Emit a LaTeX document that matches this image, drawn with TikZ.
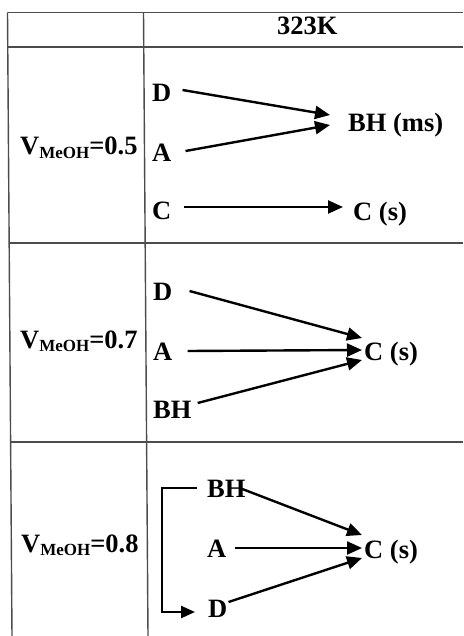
\documentclass[tikz,border=0pt]{standalone}
\usepackage{fontspec}
\setmainfont{Liberation Serif}
\usetikzlibrary{arrows.meta,calc}
\newcommand\vmeoh[1]{V\raisebox{-3.5pt}{\fontsize{17}{17}\selectfont MeOH}=#1}
\begin{document}
\begin{tikzpicture}[x=1pt,y=-1pt,
  lbl/.style={font=\fontsize{26.5}{26.5}\selectfont\bfseries, inner sep=0pt, anchor=base west},
  gridline/.style={draw=black!70, line width=1.4pt},
  arr/.style={line width=2.4pt, -{Triangle[length=15pt,width=13pt]}},
  bracket/.style={line width=2.4pt, -{Triangle[length=14pt,width=12pt]}}
]
\fill[white] (0,0) rectangle (463,636);
\useasboundingbox (0,0) rectangle (463,636);
% table
\draw[gridline] (7.5,12.5) -- (12,636);
\draw[gridline] (143.5,12.5) -- (148,636);
\draw[gridline] (7.5,12.5) -- (463,12.5);
\draw[gridline] (7.5,47) -- (463,47);
\draw[gridline] (8.5,243) -- (463,243);
\draw[gridline] (10.5,442) -- (463,442);
% header
\node[lbl] (hdr) at (277,35) {323K};
% row labels
\node[lbl] (v1) at (20,155) {\vmeoh{0.5}};
\node[lbl] (v2) at (20,348) {\vmeoh{0.7}};
\node[lbl] (v3) at (21,552) {\vmeoh{0.8}};
% row 1
\node[lbl] (d1) at (152,102) {D};
\node[lbl] (a1) at (152,162) {A};
\node[lbl] (c1) at (152,219) {C};
\node[lbl] (bh1) at (348,132) {BH (ms)};
\node[lbl] (cs1) at (353,220) {C (s)};
\draw[arr] ($(d1.base east)+(11,-12)$) -- ($(bh1.base west)+(-18,-17)$);
\draw[arr] ($(a1.base east)+(14,-11)$) -- ($(bh1.base west)+(-18,-7)$);
\draw[arr] ($(c1.base east)+(12,-12)$) -- ($(cs1.base west)+(-10,-13)$);
% row 2
\node[lbl] (d2) at (153,300) {D};
\node[lbl] (a2) at (153,360) {A};
\node[lbl] (bh2) at (153,418) {BH};
\node[lbl] (cs2) at (364,360) {C (s)};
\draw[arr] ($(d2.base east)+(17,-9)$) -- ($(cs2.base west)+(-2,-22)$);
\draw[arr] ($(a2.base east)+(15,-9)$) -- ($(cs2.base west)+(-2,-10)$);
\draw[arr] ($(bh2.base east)+(6,-15)$) -- ($(cs2.base west)+(-2,0)$);
% row 3
\node[lbl] (bh3) at (207,497) {BH};
\node[lbl] (a3) at (207,557) {A};
\node[lbl] (d3) at (208,617) {D};
\node[lbl] (cs3) at (364,558) {C (s)};
\draw[arr] ($(bh3.base east)+(-6,-9)$) -- ($(cs3.base west)+(-2,-23)$);
\draw[arr] ($(a3.base east)+(8,-9)$) -- ($(cs3.base west)+(-2,-10)$);
\draw[arr] ($(d3.base east)+(1,-15)$) -- ($(cs3.base west)+(-2,0)$);
\draw[bracket] ($(bh3.base west)+(-10,-9)$) -- (162,488) |- ($(d3.base west)+(-13,-5)$);
\end{tikzpicture}
\end{document}
